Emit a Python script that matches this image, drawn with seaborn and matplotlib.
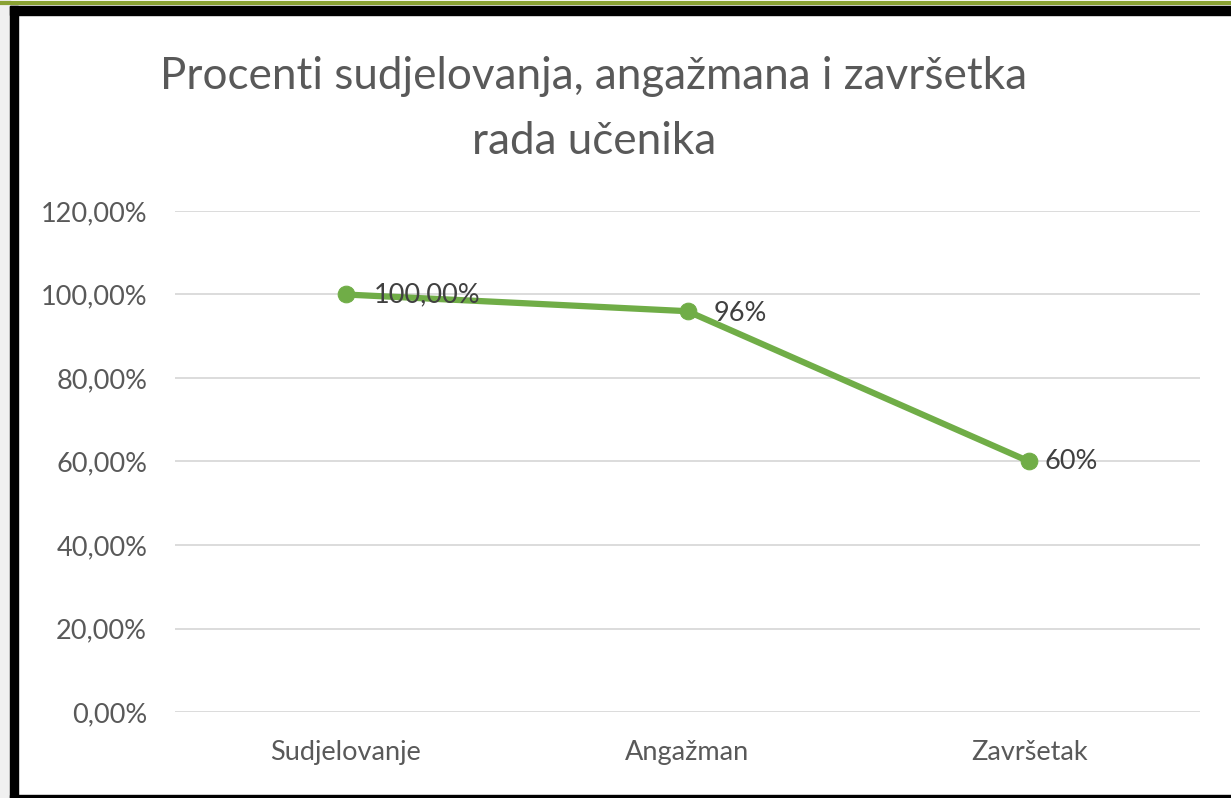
import matplotlib
matplotlib.use("Agg")
import matplotlib.pyplot as plt
import seaborn as sns
import pandas as pd
from matplotlib.patches import Rectangle
from matplotlib.lines import Line2D

categories = ["Sudjelovanje", "Angažman", "Završetak"]
values = [100.0, 96.0, 60.0]
value_labels = ["100,00%", "96%", "60%"]
yticks = [0, 20, 40, 60, 80, 100, 120]
ytick_labels = ["0,00%", "20,00%", "40,00%", "60,00%", "80,00%", "100,00%", "120,00%"]
title = "Procenti sudjelovanja, angažmana i završetka\nrada učenika"

sns.set_theme(style="white")
plt.rcParams['font.family'] = ['Lato', 'DejaVu Sans']

df = pd.DataFrame({"cat": categories, "val": values})

fig = plt.figure(figsize=(12.31, 7.98), dpi=100)
fig.patch.set_facecolor("white")

# frame decorations
fig.add_artist(Rectangle((0, 0), 10/1231, 1, transform=fig.transFigure, color="#f0f0f0", zorder=0))
fig.add_artist(Line2D([0, 1], [1 - 3/798, 1 - 3/798], transform=fig.transFigure, color="#8aa234", lw=3))
fig.add_artist(Rectangle((10/1231, 1 - 15/798), 1 - 10/1231, 9/798, transform=fig.transFigure, color="black", zorder=5))
fig.add_artist(Rectangle((10/1231, 0), 8/1231, 1 - 6/798, transform=fig.transFigure, color="black", zorder=5))
fig.add_artist(Rectangle((10/1231, 0), 1 - 10/1231, 3/798, transform=fig.transFigure, color="black", zorder=5))

ax = fig.add_axes([175/1231, 86/798, 1025/1231, 501/798])
sns.lineplot(data=df, x="cat", y="val", ax=ax, color="#70AD47", linewidth=4.5,
             marker="o", markersize=12, markeredgecolor="#70AD47", sort=False)

ax.set_xlim(-0.5, 2.5)
ax.set_ylim(0, 120)
ax.set_yticks(yticks)
ax.set_yticklabels(ytick_labels)
ax.yaxis.grid(True, color="#d9d9d9", linewidth=1.3)
ax.set_axisbelow(True)
for s in ax.spines.values():
    s.set_visible(False)
ax.set_xlabel("")
ax.set_ylabel("")
ax.tick_params(axis="y", colors="#595959", labelsize=19.5, length=0, pad=20)
ax.tick_params(axis="x", colors="#595959", labelsize=19.5, length=0, pad=20)

offsets = [(20, 0), (19, -2), (11, 0)]
for i, (v, lab) in enumerate(zip(values, value_labels)):
    ax.annotate(lab, (i, v), xytext=offsets[i], textcoords="offset points",
                ha="left", va="center", fontsize=19.5, color="#404040")

fig.text(594/1231, 1 - 109/798, title, ha="center", va="center", fontsize=31.7,
         color="#595959", linespacing=1.72)

fig.savefig("out.png", dpi=100)
